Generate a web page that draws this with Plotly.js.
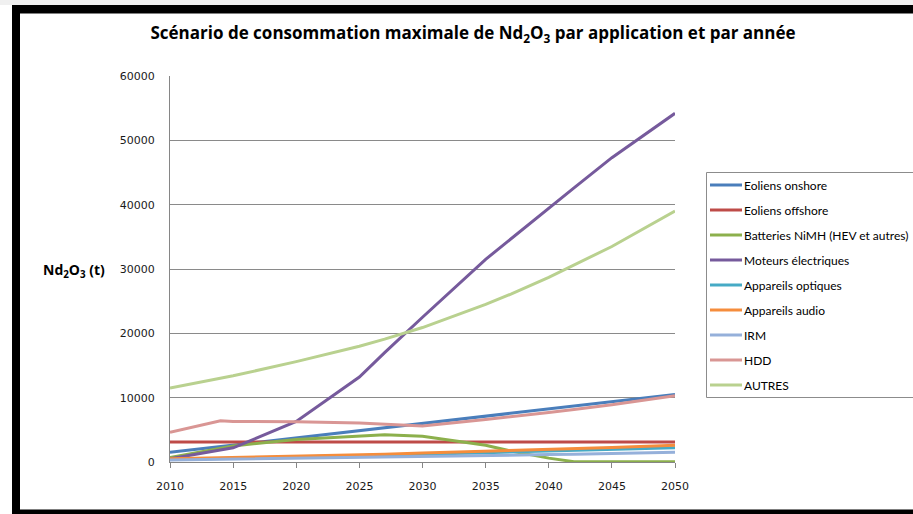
<!DOCTYPE html>
<html>
<head>
<meta charset="utf-8">
<script src="https://cdn.plot.ly/plotly-3.0.1.min.js"></script>
<style>html,body{margin:0;padding:0;background:#fff;}#chart{width:913px;height:514px;}</style>
</head>
<body>
<div id="chart"></div>
<script>
// Data (tonnes of Nd2O3 per year)
const years = [2010, 2014, 2015, 2020, 2025, 2027, 2030, 2035, 2037, 2040, 2042, 2045, 2050];
const seriesNames = ["Eoliens onshore", "Eoliens offshore", "Batteries NiMH (HEV et autres)", "Moteurs électriques", "Appareils optiques", "Appareils audio", "IRM", "HDD", "AUTRES"];
const eoliensOnshore  = [1500, 2400, 2600, 3700, 4800, 5300, 6000, 7100, 7550, 8200, 8650, 9300, 10500];
const eoliensOffshore = [3100, 3100, 3100, 3100, 3100, 3100, 3100, 3100, 3100, 3100, 3100, 3100, 3100];
const batteriesNiMH   = [700, 2200, 2500, 3500, 4100, 4250, 4000, 2600, 1700, 600, 50, 50, 50];
const moteurs         = [500, 1800, 2200, 6300, 13200, 17000, 22500, 31500, 34700, 39500, 42600, 47300, 54200];
const optiques        = [400, 550, 600, 750, 950, 1050, 1200, 1450, 1550, 1700, 1800, 1950, 2200];
const audio           = [500, 650, 700, 850, 1100, 1200, 1400, 1650, 1750, 1950, 2050, 2250, 2600];
const irm             = [300, 400, 420, 550, 700, 760, 850, 1000, 1060, 1150, 1220, 1330, 1500];
const hdd             = [4600, 6400, 6300, 6250, 6050, 5900, 5600, 6600, 7000, 7700, 8150, 8900, 10300];
const autres          = [11500, 13000, 13400, 15600, 18000, 19100, 20900, 24500, 26100, 28700, 30600, 33500, 39000];
const xTickVals = [2010, 2015, 2020, 2025, 2030, 2035, 2040, 2045, 2050];
const yTickVals = [0, 10000, 20000, 30000, 40000, 50000, 60000];

const allValues = [eoliensOnshore, eoliensOffshore, batteriesNiMH, moteurs, optiques, audio, irm, hdd, autres];
const colors = ["#4a7ebb", "#be4b48", "#8cb04c", "#765a9c", "#46aac5", "#f58d3c", "#95b0da", "#d99694", "#b9d18f"];

// plot area geometry (pixels)
const W = 913, H = 514, L = 170, R = 675, T = 76, B = 462;
const fx = px => (px - L) / (R - L);
const fy = py => (B - py) / (B - T);

const traces = allValues.map((vals, i) => ({
  x: years, y: vals, type: 'scatter', mode: 'lines', name: seriesNames[i],
  line: {color: colors[i], width: 3}, showlegend: false, hoverinfo: 'skip'
}));

const shapes = [
  {type:'rect', xref:'paper', yref:'paper', x0:fx(-5), x1:fx(920), y0:fy(-5), y1:fy(5), fillcolor:'#f0f0f0', line:{width:0}, layer:'below'},
  {type:'rect', xref:'paper', yref:'paper', x0:fx(12), x1:fx(920), y0:fy(5), y1:fy(13.5), fillcolor:'#000', line:{width:0}, layer:'below'},
  {type:'rect', xref:'paper', yref:'paper', x0:fx(12), x1:fx(20), y0:fy(5), y1:fy(520), fillcolor:'#000', line:{width:0}, layer:'below'},
  {type:'rect', xref:'paper', yref:'paper', x0:fx(12), x1:fx(920), y0:fy(509.5), y1:fy(520), fillcolor:'#000', line:{width:0}, layer:'below'},
  {type:'rect', xref:'paper', yref:'paper', x0:fx(706.5), x1:fx(930), y0:fy(172.5), y1:fy(397.5), fillcolor:'rgba(0,0,0,0)', line:{color:'#8c8c8c', width:1}}
];
const annotations = [
  {xref:'paper', yref:'paper', x:fx(74), y:fy(270), text:'<b>Nd<sub>2</sub>O<sub>3</sub> (t)</b>', showarrow:false, xanchor:'center', yanchor:'middle', font:{family:'Open Sans, sans-serif', size:14, color:'#000'}}
];
seriesNames.forEach((n, i) => {
  const yc = 185 + i * 25;
  shapes.push({type:'line', xref:'paper', yref:'paper', x0:fx(710), x1:fx(742), y0:fy(yc), y1:fy(yc), line:{color:colors[i], width:3}});
  annotations.push({xref:'paper', yref:'paper', x:fx(742), y:fy(yc), text:n, showarrow:false, xanchor:'left', yanchor:'middle', font:{family:'Lato, sans-serif', size:12, color:'#000'}});
});

const layout = {
  width: W, height: H,
  margin: {l: L, r: W - R, t: T, b: H - B, pad: 0},
  paper_bgcolor: '#fff', plot_bgcolor: '#fff',
  showlegend: false,
  title: {text: '<b>Scénario de consommation maximale de Nd<sub>2</sub>O<sub>3</sub> par application et par année</b>',
          x: 473/913, xanchor: 'center', y: 1 - 33/514, yanchor: 'middle', yref: 'container', xref: 'container',
          font: {family: 'Open Sans, sans-serif', size: 17, color: '#000'}},
  xaxis: {range: [2010, 2050], tickvals: xTickVals, ticktext: xTickVals.map(String), showgrid: false, zeroline: false,
          showline: true, linecolor: '#868686', linewidth: 1, ticks: 'outside', ticklen: 5, tickcolor: '#868686',
          ticklabelstandoff: 9, tickfont: {family: 'DejaVu Sans, sans-serif', size: 11, color: '#1a1a1a'}, fixedrange: true},
  yaxis: {range: [0, 60000], tickvals: yTickVals, ticktext: yTickVals.map(String), showgrid: true, gridcolor: '#8a8a8a', gridwidth: 1,
          zeroline: false, showline: true, linecolor: '#868686', linewidth: 1, ticks: '', ticklabelstandoff: 12,
          tickfont: {family: 'DejaVu Sans, sans-serif', size: 11, color: '#1a1a1a'}, fixedrange: true},
  shapes: shapes,
  annotations: annotations
};
Plotly.newPlot('chart', traces, layout, {displayModeBar: false, staticPlot: true});
</script>
</body>
</html>
